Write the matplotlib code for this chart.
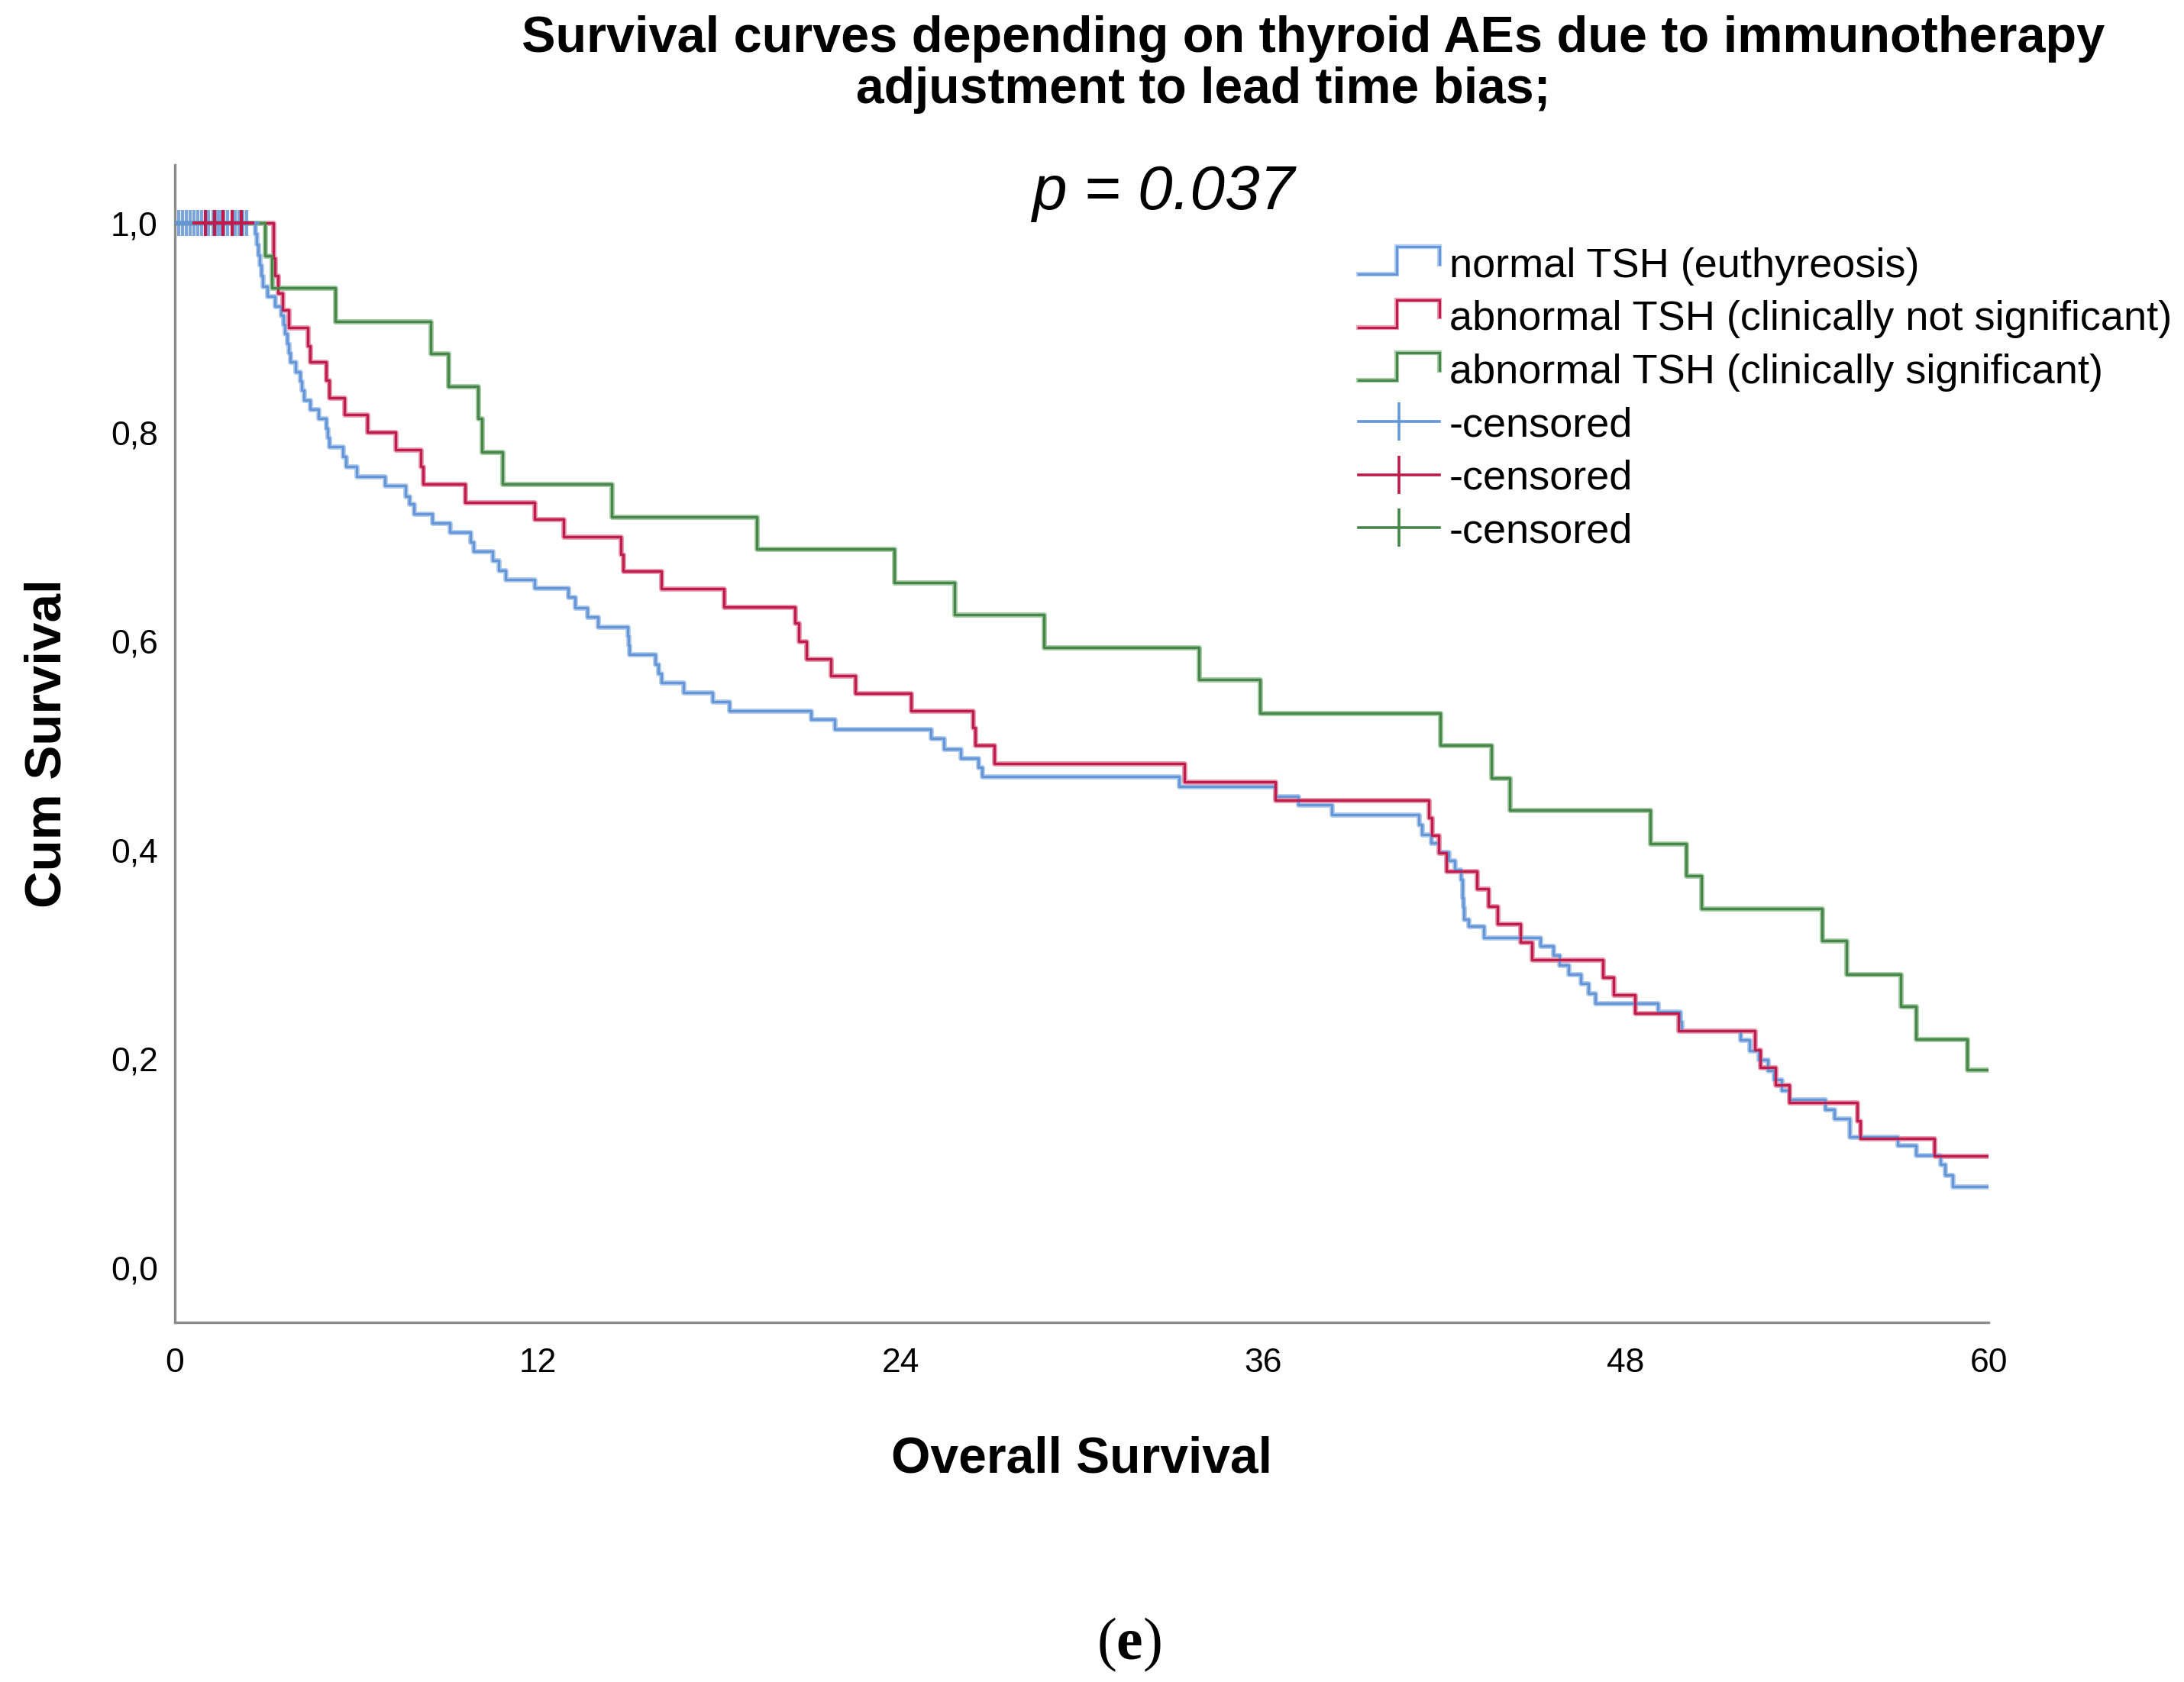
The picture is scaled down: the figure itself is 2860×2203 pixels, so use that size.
import numpy as np
import matplotlib
matplotlib.use("Agg")
import matplotlib.pyplot as plt
from matplotlib.lines import Line2D
from matplotlib.legend_handler import HandlerBase

plt.rcParams['font.family'] = ['Liberation Sans', 'DejaVu Sans']
plt.rcParams['mathtext.fontset'] = 'custom'
plt.rcParams['mathtext.rm'] = 'Liberation Serif'
plt.rcParams['mathtext.bf'] = 'Liberation Serif:bold'

# event times (months) and survival after each drop
blue_time = [2.65, 2.7, 2.75, 2.8, 2.85, 2.9, 3.05, 3.3, 3.5, 3.58, 3.64, 3.7, 3.75, 3.81,
             4.0, 4.14, 4.2, 4.26, 4.48, 4.76, 4.99, 5.05, 5.1, 5.55, 5.66, 6.0, 6.95,
             7.62, 7.75, 7.9, 8.5, 9.09, 9.78, 9.87, 10.52, 10.7, 10.94, 11.89, 13.0,
             13.24, 13.63, 14.0, 14.98, 15.0, 15.04, 15.88, 16.0, 16.1, 16.83, 17.79,
             18.35, 21.04, 21.82, 25.0, 25.44, 26.0, 26.58, 26.7, 33.21, 36.4, 37.17,
             38.26, 41.15, 41.25, 41.55, 41.8, 42.15, 42.35, 42.55, 42.58, 42.6, 42.62,
             42.65, 42.8, 43.3, 45.17, 45.6, 45.8, 46.1, 46.5, 46.75, 47.0, 49.05, 49.8,
             49.85, 51.8, 52.1, 52.4, 52.7, 52.9, 53.15, 53.4, 54.6, 54.9, 55.4, 57.0,
             57.6, 58.4, 58.55, 58.8]
blue_surv = [0.99, 0.98, 0.97, 0.96, 0.95, 0.94, 0.93, 0.921, 0.912, 0.903, 0.894, 0.885,
             0.876, 0.867, 0.858, 0.849, 0.84, 0.831, 0.822, 0.813, 0.804, 0.795, 0.786,
             0.777, 0.767, 0.758, 0.749, 0.739, 0.731, 0.722, 0.713, 0.704, 0.695, 0.686,
             0.677, 0.668, 0.659, 0.651, 0.642, 0.632, 0.623, 0.614, 0.605, 0.596, 0.587,
             0.578, 0.569, 0.56, 0.551, 0.542, 0.533, 0.525, 0.516, 0.507, 0.497, 0.488,
             0.479, 0.47, 0.461, 0.451, 0.443, 0.434, 0.424, 0.415, 0.407, 0.398, 0.39,
             0.381, 0.372, 0.363, 0.354, 0.345, 0.334, 0.327, 0.316, 0.308, 0.299, 0.29,
             0.281, 0.272, 0.263, 0.253, 0.245, 0.236, 0.227, 0.218, 0.208, 0.199, 0.189,
             0.18, 0.17, 0.161, 0.152, 0.143, 0.125, 0.117, 0.108, 0.099, 0.089, 0.078]

red_time = [3.25, 3.3, 3.4, 3.55, 3.75, 4.4, 4.48, 4.99, 5.1, 5.6, 6.37, 7.31, 8.13, 8.21,
            9.59, 11.89, 12.85, 14.76, 14.82, 16.1, 18.17, 20.5, 20.63, 20.89, 21.71, 22.5,
            24.34, 26.4, 26.47, 27.1, 33.4, 36.4, 41.49, 41.57, 41.8, 42.05, 43.08, 43.46,
            43.75, 44.5, 44.9, 47.25, 47.6, 48.3, 49.73, 52.28, 52.45, 52.95, 53.4, 55.65,
            55.75, 58.2]
red_surv = [0.967, 0.95, 0.933, 0.917, 0.9, 0.883, 0.867, 0.85, 0.833, 0.817, 0.8, 0.783,
            0.767, 0.75, 0.733, 0.717, 0.7, 0.683, 0.667, 0.65, 0.633, 0.617, 0.6, 0.583,
            0.567, 0.55, 0.533, 0.517, 0.5, 0.483, 0.465, 0.448, 0.431, 0.414, 0.397, 0.38,
            0.363, 0.346, 0.329, 0.312, 0.295, 0.278, 0.261, 0.244, 0.227, 0.209, 0.192,
            0.175, 0.158, 0.141, 0.124, 0.107]

green_time = [2.97, 3.2, 5.3, 8.46, 9.04, 10.03, 10.15, 10.83, 14.45, 19.26, 23.8, 25.8,
              28.75, 33.87, 35.9, 41.87, 43.56, 44.17, 48.8, 50.0, 50.5, 54.5, 55.3, 57.1,
              57.6, 59.3]
green_surv = [0.969, 0.938, 0.906, 0.875, 0.844, 0.813, 0.781, 0.75, 0.719, 0.688, 0.656,
              0.625, 0.594, 0.563, 0.531, 0.5, 0.469, 0.438, 0.406, 0.375, 0.344, 0.313,
              0.281, 0.25, 0.219, 0.19]

blue_censored = [0.12, 0.25, 0.38, 0.5, 0.62, 0.75, 0.88, 1.0, 1.12, 1.25, 1.38, 1.5, 1.62,
                 1.75, 1.88, 2.0, 2.12, 2.25, 2.38]
red_censored = [1.0, 1.3, 1.6, 1.9, 2.2]

end_time = 60
x_ticks = [0, 12, 24, 36, 48, 60]
y_ticks = [0.0, 0.2, 0.4, 0.6, 0.8, 1.0]
y_ticklabels = ['0,0', '0,2', '0,4', '0,6', '0,8', '1,0']

labels = ['normal TSH (euthyreosis)',
          'abnormal TSH (clinically not significant)',
          'abnormal TSH (clinically significant)']
colors = ['#6596d6', '#bd1d4c', '#47864a']
halo = ['#b3cdf0', '#eb9db2', '#a6cca6']


class StepHandler(HandlerBase):
    """ draw the little step symbol SPSS puts in the legend """

    def create_artists(self, legend, orig_handle, xdescent, ydescent,
                       width, height, fontsize, trans):
        x0, y0 = -xdescent, -ydescent
        xs = [x0, x0 + 0.47 * width, x0 + 0.47 * width, x0 + width, x0 + width]
        ys = [y0 + 0.1 * height, y0 + 0.1 * height, y0 + 1.05 * height,
              y0 + 1.05 * height, y0 + 0.45 * height]
        under = Line2D(xs, ys, color=orig_handle.get_mfc(), lw=4.5,
                       solid_joinstyle='miter', transform=trans)
        line = Line2D(xs, ys, color=orig_handle.get_color(), lw=2.2,
                      solid_joinstyle='miter', transform=trans)
        return [under, line]


fig = plt.figure(figsize=(28.6, 22.03), dpi=100)
ax = fig.add_axes([0.0801, 0.2140, 0.8304, 0.6880])

curves = [(blue_time, blue_surv), (red_time, red_surv), (green_time, green_surv)]
for (t, s), c, h in zip(curves, colors, halo):
    tt = [0] + list(t) + [end_time]
    ss = [1.0] + list(s) + [s[-1]]
    ax.step(tt, ss, where='post', color=h, lw=5.0, zorder=2)
    ax.step(tt, ss, where='post', color=c, lw=2.4, zorder=3)

ax.plot(blue_censored, np.ones(len(blue_censored)), ls='none', marker='+',
        ms=24, mew=3.0, color=colors[0], alpha=0.85, zorder=4)
ax.plot(red_censored, np.ones(len(red_censored)), ls='none', marker='+',
        ms=24, mew=3.0, color=colors[1], zorder=5)

ax.set_xlim(0, 60)
ax.set_ylim(-0.052, 1.056)
ax.set_xticks(x_ticks)
ax.set_xticklabels([str(v) for v in x_ticks])
ax.set_yticks(y_ticks)
ax.set_yticklabels(y_ticklabels)
ax.tick_params(length=0, labelsize=32, colors='black')
ax.tick_params(axis='x', pad=24)
ax.tick_params(axis='y', pad=16)
for side in ['top', 'right']:
    ax.spines[side].set_visible(False)
for side in ['left', 'bottom']:
    ax.spines[side].set_color('#8c8c8c')
    ax.spines[side].set_linewidth(2.4)

ax.set_xlabel('Overall Survival', fontsize=47.5, fontweight='bold')
ax.xaxis.set_label_coords(0.5, -0.098)
ax.set_ylabel('Cum Survival', fontsize=48.5, fontweight='bold')
ax.yaxis.set_label_coords(-0.057, 0.5)

fig.text(0.6014, 0.9768, 'Survival curves depending on thyroid AEs due to immunotherapy',
         ha='center', va='center', fontsize=48, fontweight='bold')
fig.text(0.551, 0.9466, 'adjustment to lead time bias;',
         ha='center', va='center', fontsize=47.5, fontweight='bold')
fig.text(0.5326, 0.885, 'p = 0.037', ha='center', va='center', fontsize=59,
         style='italic')
fig.text(0.517, 0.022, r'($\mathbf{e}$)', ha='center', va='center', fontsize=56,
         family='Liberation Serif')

# legend
step_handles = [Line2D([], [], color=c, mfc=h) for c, h in zip(colors, halo)]
cens_handles = [Line2D([], [], color=c, lw=2.6, marker='|', ms=36, mew=2.6)
                for c in colors]
hmap = {hd: StepHandler() for hd in step_handles}
fig.legend(step_handles + cens_handles, labels + ['-censored'] * 3,
           loc='upper left', bbox_to_anchor=(0.622, 0.853), frameon=False,
           fontsize=39, handlelength=1.95, handletextpad=0.25, labelspacing=0.36,
           borderpad=0, borderaxespad=0, numpoints=1, handler_map=hmap)

fig.savefig('out.png', dpi=100, facecolor='white')
